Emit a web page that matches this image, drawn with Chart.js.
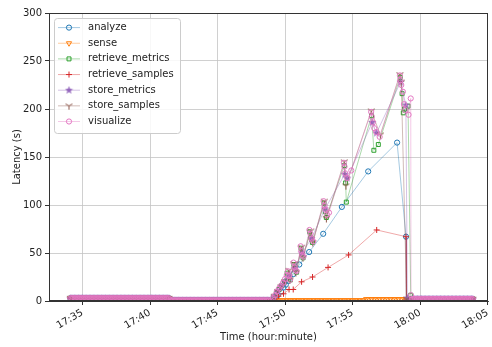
<!DOCTYPE html>
<html><head><meta charset="utf-8">
<script src="https://cdn.jsdelivr.net/npm/chart.js@4/dist/chart.umd.min.js"></script>
<style>html,body{margin:0;padding:0;background:#fff}</style>
</head><body>
<canvas id="c" width="492" height="347"></canvas>
<script>
// ---- data (x = minutes after 17:00) ----
const seriesNames = ['analyze','sense','retrieve_metrics','retrieve_samples','store_metrics','store_samples','visualize'];
const xTickValues = [35,40,45,50,55,60,65];
const xTickLabels = ['17:35','17:40','17:45','17:50','17:55','18:00','18:05'];
const yTickValues = [0,50,100,150,200,250,300];

const baseT1 = [34.1,34.2,34.3,34.4,34.5,34.6,34.7,34.8,34.9,
  35.0,35.1,35.2,35.3,35.4,35.5,35.6,35.7,35.8,35.9,
  36.0,36.1,36.2,36.3,36.4,36.5,36.6,36.7,36.8,36.9,
  37.0,37.1,37.2,37.3,37.4,37.5,37.6,37.7,37.8,37.9,
  38.0,38.1,38.2,38.3,38.4,38.5,38.6,38.7,38.8,38.9,
  39.0,39.1,39.2,39.3,39.4,39.5,39.6,39.7,39.8,39.9,
  40.0,40.1,40.2,40.3,40.4,40.5,40.6,40.7,40.8,40.9,
  41.0,41.1,41.2,41.3,41.4];
const baseV1 = [2.8,2.8,2.8,2.8,2.8,2.8,2.8,2.8,2.8,
  2.8,2.8,2.8,2.8,2.8,2.8,2.8,2.8,2.8,2.8,
  2.8,2.8,2.8,2.8,2.8,2.8,2.8,2.8,2.8,2.8,
  2.8,2.8,2.8,2.8,2.8,2.8,2.8,2.8,2.8,2.8,
  2.8,2.8,2.8,2.8,2.8,2.8,2.8,2.8,2.8,2.8,
  2.8,2.8,2.8,2.8,2.8,2.8,2.8,2.8,2.8,2.8,
  2.8,2.8,2.8,2.8,2.8,2.8,2.8,2.8,2.8,2.8,
  2.8,2.8,2.8,2.8,2.8];
const baseT2 = [41.5,41.6,41.7,41.8,41.9,
  42.0,42.1,42.2,42.3,42.4,42.5,42.6,42.7,42.8,42.9,
  43.0,43.1,43.2,43.3,43.4,43.5,43.6,43.7,43.8,43.9,
  44.0,44.1,44.2,44.3,44.4,44.5,44.6,44.7,44.8,44.9,
  45.0,45.1,45.2,45.3,45.4,45.5,45.6,45.7,45.8,45.9,
  46.0,46.1,46.2,46.3,46.4,46.5,46.6,46.7,46.8,46.9,
  47.0,47.1,47.2,47.3,47.4,47.5,47.6,47.7,47.8,47.9,
  48.0,48.1,48.2,48.3,48.4,48.5,48.6,48.7,48.8];
const baseV2 = [0.6,0.6,0.6,0.6,0.6,
  0.6,0.6,0.6,0.6,0.6,0.6,0.6,0.6,0.6,0.6,
  0.6,0.6,0.6,0.6,0.6,0.6,0.6,0.6,0.6,0.6,
  0.6,0.6,0.6,0.6,0.6,0.6,0.6,0.6,0.6,0.6,
  0.6,0.6,0.6,0.6,0.6,0.6,0.6,0.6,0.6,0.6,
  0.6,0.6,0.6,0.6,0.6,0.6,0.6,0.6,0.6,0.6,
  0.6,0.6,0.6,0.6,0.6,0.6,0.6,0.6,0.6,0.6,
  0.6,0.6,0.6,0.6,0.6,0.6,0.6,0.6,0.6];
const baseT3 = [59.4,59.5,59.6,59.7,59.8,59.9,
  60.0,60.1,60.2,60.3,60.4,60.5,60.6,60.7,60.8,60.9,
  61.0,61.1,61.2,61.3,61.4,61.5,61.6,61.7,61.8,61.9,
  62.0,62.1,62.2,62.3,62.4,62.5,62.6,62.7,62.8,62.9,
  63.0,63.1,63.2,63.3,63.4,63.5,63.6,63.7,63.8,63.9];
const baseV3 = [2,2,2,2,2,2,
  2,2,2,2,2,2,2,2,2,2,
  2,2,2,2,2,2,2,2,2,2,
  2,2,2,2,2,2,2,2,2,2,
  2,2,2,2,2,2,2,2,2,2];

const analyzeT = [48.95,49.2,49.45,49.7,49.88,50.05,50.24,50.6,51.05,51.78,52.82,54.2,56.15,58.29,58.95,58.98];
const analyzeV = [0.5,3,6,10,14,17,21,28,38,51,70,98,135,165,67,1];

const senseT = [49.0,49.2,49.4,49.6,49.8,50.0,50.2,50.4,50.6,50.8,51.0,51.2,51.4,51.6,51.8,52.0,52.2,52.4,52.6,52.8,53.0,53.2,53.4,53.6,53.8,54.0,54.2,54.4,54.6,54.8,55.0,55.2,55.4,55.6,55.8,
  56.0,56.2,56.4,56.6,56.8,57.0,57.2,57.4,57.6,57.8,58.0,58.2,58.4,58.6,58.8,59.0,59.2];
const senseV = [0.8,0.8,0.8,0.8,0.8,0.8,0.8,0.8,0.8,0.8,0.8,0.8,0.8,0.8,0.8,0.8,0.8,0.8,0.8,0.8,0.8,0.8,0.8,0.8,0.8,0.8,0.8,0.8,0.8,0.8,0.8,0.8,0.8,0.8,0.8,
  2,2,2,2,2,2,2,2,2,2,2,2,2,2,2,2,2];

const retrieveMetricsT = [48.95,49.15,49.35,49.55,49.75,49.95,50.15,50.3,50.4,50.65,50.75,50.85,51.18,51.25,51.33,51.82,51.92,52.02,52.88,52.98,53.05,54.38,54.48,54.53,56.4,56.57,56.9,58.52,58.66,58.75,58.85,59.1,59.3];
const retrieveMetricsV = [0.5,4,8,12,16,20,29,25,22,38,34,30,55,49,45,72,66,61,102,93,87,141,123,103,193,157,163,233,216,196,200,203,6];

const retrieveSamplesT = [48.95,49.2,49.5,49.88,50.29,50.6,51.22,52.03,53.18,54.7,56.78,58.95,58.98];
const retrieveSamplesV = [0.5,2,5,7.5,12,12,20,25,35,48,74,67,1];

const storeMetricsT = [48.95,49.2,49.45,49.7,49.95,50.3,50.7,51.25,51.95,52.95,54.42,54.6,56.45,56.76,58.55,58.94,59.05];
const storeMetricsV = [0.5,5,10,15,20,26,34,50,65,96,132,128,186,175,228,204,3];

const storeSamplesT = [48.95,49.2,49.45,49.7,49.95,50.28,50.36,50.66,50.8,51.2,51.32,51.9,52.05,52.9,53.05,54.38,54.5,56.38,57.05,58.5,58.6,59.0];
const storeSamplesV = [0.5,5,10,15,20,32,22,39,30,56,45,73,61,104,86,145,120,198,173,236,228,2];

const visualizeT = [48.95,49.1,49.25,49.4,49.55,49.7,49.85,50.0,50.12,50.2,50.3,50.37,50.62,50.7,50.78,50.85,51.15,51.2,51.27,51.35,51.8,51.88,51.96,52.08,52.85,52.92,53.0,53.1,53.25,54.35,54.4,54.45,54.6,54.9,56.37,56.42,56.5,56.6,56.75,57.0,58.5,58.53,58.6,58.72,58.8,58.9,59.14,59.3,59.32];
const visualizeV = [0.5,3,6,10,13,16,19,23,27,31,26,22,40,35,32,31,57,52,48,46,74,70,65,62,104,99,95,90,92,144,140,133,128,136,197,192,186,180,176,171,235,230,225,218,205,199,194,211,6];

// ---- build ----
function pts(T, V){ return T.map((t,i)=>({x:t, y:V[i]})); }
function withBase(T, V){
  return [].concat(pts(baseT1,baseV1), pts(baseT2,baseV2), pts(T,V), pts(baseT3,baseV3));
}
const riseData = [[analyzeT,analyzeV],[senseT,senseV],[retrieveMetricsT,retrieveMetricsV],[retrieveSamplesT,retrieveSamplesV],[storeMetricsT,storeMetricsV],[storeSamplesT,storeSamplesV],[visualizeT,visualizeV]];

const colors = ['31,119,180','255,127,14','44,160,44','214,39,40','148,103,189','140,86,75','227,119,194'];

function makeStar(rgb){
  const c=document.createElement('canvas'); c.width=c.height=9; const g=c.getContext('2d');
  g.fillStyle='rgb('+rgb+')'; g.beginPath();
  for(let i=0;i<10;i++){const r=i%2?1.8:4.2; const a=-Math.PI/2+i*Math.PI/5; g.lineTo(4.5+r*Math.cos(a),4.5+r*Math.sin(a));}
  g.closePath(); g.fill(); return c;
}
function makeTri(rgb){
  const c=document.createElement('canvas'); c.width=c.height=9; const g=c.getContext('2d');
  g.strokeStyle='rgb('+rgb+')'; g.lineWidth=1; g.beginPath();
  g.moveTo(4.5,4.5); g.lineTo(4.5,8.5); g.moveTo(4.5,4.5); g.lineTo(1,2.5); g.moveTo(4.5,4.5); g.lineTo(8,2.5);
  g.stroke(); return c;
}
const styles = [
  {ps:'circle', rot:0, r:2.6},
  {ps:'triangle', rot:180, r:3},
  {ps:'rect', rot:0, r:2.8},
  {ps:'cross', rot:0, r:3},
  {ps:makeStar(colors[4]), rot:0, r:3},
  {ps:makeTri(colors[5]), rot:0, r:3},
  {ps:'circle', rot:0, r:2.6}
];

const datasets = seriesNames.map((name,i)=>({
  label: name,
  data: withBase(riseData[i][0], riseData[i][1]),
  borderColor: 'rgba('+colors[i]+',0.5)',
  borderWidth: 0.8,
  pointBorderColor: 'rgb('+colors[i]+')',
  pointBackgroundColor: 'rgba(255,255,255,0)',
  pointBorderWidth: 1,
  pointStyle: styles[i].ps,
  pointRotation: styles[i].rot,
  pointRadius: styles[i].r,
  pointHoverRadius: styles[i].r,
  tension: 0,
  fill: false,
  order: seriesNames.length - 1 - i
}));

const FONT = {family:'DejaVu Sans', size:10};
const TXT = '#222';

const framePlugin = {
  id:'frame',
  afterDraw(chart){
    const {ctx, chartArea:a} = chart;
    ctx.save();
    ctx.strokeStyle='#333'; ctx.lineWidth=1;
    ctx.strokeRect(Math.round(a.left)+0.5, Math.round(a.top)+0.5, Math.round(a.right-a.left)-1, Math.round(a.bottom-a.top)-1);
    // legend
    const bx=54.5, by=18.5, bw=126, bh=115;
    ctx.fillStyle='rgba(255,255,255,0.85)'; ctx.strokeStyle='#cccccc';
    ctx.beginPath();
    if (ctx.roundRect) ctx.roundRect(bx,by,bw,bh,3); else ctx.rect(bx,by,bw,bh);
    ctx.fill(); ctx.stroke();
    chart.data.datasets.forEach((ds,i)=>{
      const y = 27.6 + i*15.65;
      ctx.strokeStyle = ds.borderColor; ctx.lineWidth = 0.8;
      ctx.beginPath(); ctx.moveTo(58,y); ctx.lineTo(80,y); ctx.stroke();
      ctx.strokeStyle = ds.pointBorderColor; ctx.fillStyle = 'rgba(255,255,255,0)'; ctx.lineWidth=1;
      Chart.helpers.drawPoint(ctx, {pointStyle: ds.pointStyle, rotation: ds.pointRotation, radius: ds.pointRadius, borderWidth: 1}, 69, y);
      ctx.fillStyle = TXT; ctx.font = '10px "DejaVu Sans"'; ctx.textBaseline='middle'; ctx.textAlign='left';
      ctx.fillText(ds.label, 88, y);
    });
    ctx.restore();
  }
};

new Chart(document.getElementById('c'), {
  type:'line',
  data:{datasets},
  options:{
    responsive:false, animation:false, devicePixelRatio:1,
    layout:{padding:{top:13,right:1,left:0,bottom:0}},
    plugins:{legend:{display:false}, tooltip:{enabled:false}},
    scales:{
      x:{
        type:'linear', min:32.52, max:65.02,
        afterBuildTicks(s){ s.ticks = xTickValues.map(v=>({value:v})); },
        ticks:{ callback:(v)=>{const k=xTickValues.indexOf(v); return k>=0?xTickLabels[k]:'';}, minRotation:30, maxRotation:30, font:FONT, color:TXT, padding:2, autoSkip:false },
        grid:{color:'#c4c4c4', lineWidth:0.8, tickColor:'#333', tickLength:4, tickWidth:1},
        border:{color:'#333', width:1},
        title:{display:true, text:'Time (hour:minute)', font:FONT, color:TXT, padding:{top:0,bottom:4}},
        afterFit(s){ s.height=46; s.paddingLeft=0; s.paddingRight=0; }
      },
      y:{
        type:'linear', min:0, max:300,
        afterBuildTicks(s){ s.ticks = yTickValues.map(v=>({value:v})); },
        ticks:{ font:FONT, color:TXT, padding:3 },
        grid:{color:'#c4c4c4', lineWidth:0.8, tickColor:'#333', tickLength:4, tickWidth:1},
        border:{color:'#333', width:1},
        title:{display:true, text:'Latency (s)', font:FONT, color:TXT, padding:{top:11,bottom:0}},
        afterFit(s){ s.width=49; s.paddingTop=0; s.paddingBottom=0; }
      }
    }
  },
  plugins:[framePlugin]
});
</script>
</body></html>
